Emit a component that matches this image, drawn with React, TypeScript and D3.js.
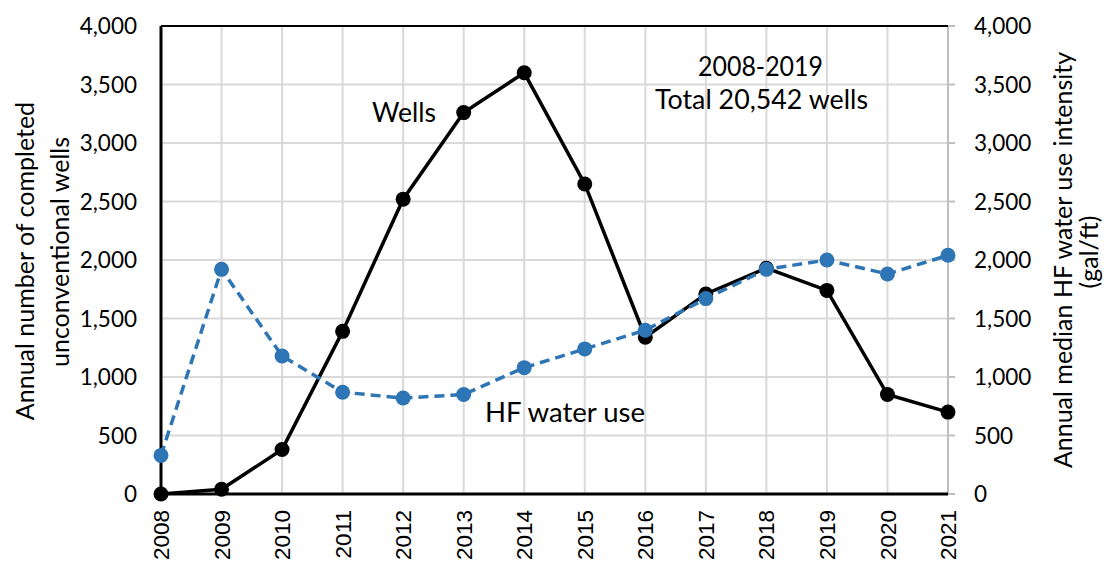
import React from "react";
import * as d3 from "d3";

const years = [2008, 2009, 2010, 2011, 2012, 2013, 2014, 2015, 2016, 2017, 2018, 2019, 2020, 2021];
const wells = [0, 40, 380, 1390, 2520, 3260, 3600, 2650, 1340, 1710, 1930, 1740, 850, 700];
const hfWater = [330, 1920, 1180, 870, 820, 850, 1080, 1240, 1400, 1670, 1920, 2000, 1880, 2040];
const yTicks = [0, 500, 1000, 1500, 2000, 2500, 3000, 3500, 4000];

const W = 1104, H = 565;
const left = 161, right = 948, top = 26, bottom = 494;
const font = "Lato, 'Open Sans', sans-serif";

export default function App() {
  const x = d3.scaleLinear().domain([2008, 2021]).range([left, right]);
  const yL = d3.scaleLinear().domain([0, 4000]).range([bottom, top]);
  const yR = d3.scaleLinear().domain([0, 4000]).range([bottom, top]);
  const fmt = d3.format(",");
  const wellPts = years.map((yr, i) => [x(yr), yL(wells[i])] as [number, number]);
  const hfPts = years.map((yr, i) => [x(yr), yR(hfWater[i])] as [number, number]);
  const line = d3.line();
  return (
    <svg width={W} height={H} style={{ position: "absolute", left: 0, top: 0, background: "#fff" }}>
      {/* grid */}
      {yTicks.map((t) => (
        <line key={"h" + t} x1={left} x2={right} y1={yL(t)} y2={yL(t)} stroke="#d9d9d9" strokeWidth={2} />
      ))}
      {years.map((yr) => (
        <line key={"v" + yr} x1={x(yr)} x2={x(yr)} y1={top} y2={bottom} stroke="#d9d9d9" strokeWidth={2} />
      ))}
      {/* right axis */}
      <line x1={right} x2={right} y1={top} y2={bottom} stroke="#bfbfbf" strokeWidth={2} />
      {yTicks.map((t) => (
        <line key={"rt" + t} x1={right} x2={right + 7} y1={yR(t)} y2={yR(t)} stroke="#bfbfbf" strokeWidth={2} />
      ))}
      {/* frame */}
      <line x1={left} x2={right} y1={top} y2={top} stroke="#000" strokeWidth={2} />
      <line x1={left} x2={left} y1={top} y2={bottom} stroke="#000" strokeWidth={3} />
      <line x1={left} x2={right} y1={bottom} y2={bottom} stroke="#000" strokeWidth={3} />
      {/* left ticks */}
      {yTicks.map((t) => (
        <text key={"lt" + t} x={137} y={yL(t)} dy="0.36em" textAnchor="end" fontFamily={font} fontSize={22.5} fill="#000">
          {fmt(t)}
        </text>
      ))}
      {yTicks.map((t) => (
        <text key={"rl" + t} x={974} y={yR(t)} dy="0.36em" textAnchor="start" fontFamily={font} fontSize={22.5} fill="#000">
          {fmt(t)}
        </text>
      ))}
      {/* x labels */}
      {years.map((yr) => (
        <text key={"xl" + yr} transform={`translate(${x(yr)},${510}) rotate(-90)`} dy="0.36em" textAnchor="end"
          fontFamily="'Liberation Sans', Arial, sans-serif" fontSize={22.5} fill="#000">
          {yr}
        </text>
      ))}
      {/* axis titles */}
      <text transform={`translate(34,261) rotate(-90)`} textAnchor="middle" fontFamily={font} fontSize={25}>
        Annual number of completed
      </text>
      <text transform={`translate(69,252) rotate(-90)`} textAnchor="middle" fontFamily={font} fontSize={25}>
        unconventional wells
      </text>
      <text transform={`translate(1072,260) rotate(-90)`} textAnchor="middle" fontFamily={font} fontSize={25}>
        Annual median HF water use intensity
      </text>
      <text transform={`translate(1098,252) rotate(-90)`} textAnchor="middle" fontFamily={font} fontSize={25}>
        (gal/ft)
      </text>
      {/* series */}
      <path d={line(wellPts) || ""} fill="none" stroke="#000" strokeWidth={3.5} />
      {wellPts.map((p, i) => (
        <circle key={"w" + i} cx={p[0]} cy={p[1]} r={7.5} fill="#000" />
      ))}
      <path d={line(hfPts) || ""} fill="none" stroke="#2E75B6" strokeWidth={3.5} strokeDasharray="10,6" />
      {hfPts.map((p, i) => (
        <circle key={"h" + i} cx={p[0]} cy={p[1]} r={7.5} fill="#2E75B6" />
      ))}
      {/* annotations */}
      <text x={372} y={122} textLength={64} lengthAdjust="spacingAndGlyphs" fontFamily={font} fontSize={26}>Wells</text>
      <text x={698} y={76} textLength={125} lengthAdjust="spacingAndGlyphs" fontFamily={font} fontSize={26}>2008-2019</text>
      <text x={655} y={109} textLength={213} lengthAdjust="spacingAndGlyphs" fontFamily={font} fontSize={26}>Total 20,542 wells</text>
      <text x={485} y={422} textLength={160} lengthAdjust="spacingAndGlyphs" fontFamily={font} fontSize={26}>HF water use</text>
    </svg>
  );
}
